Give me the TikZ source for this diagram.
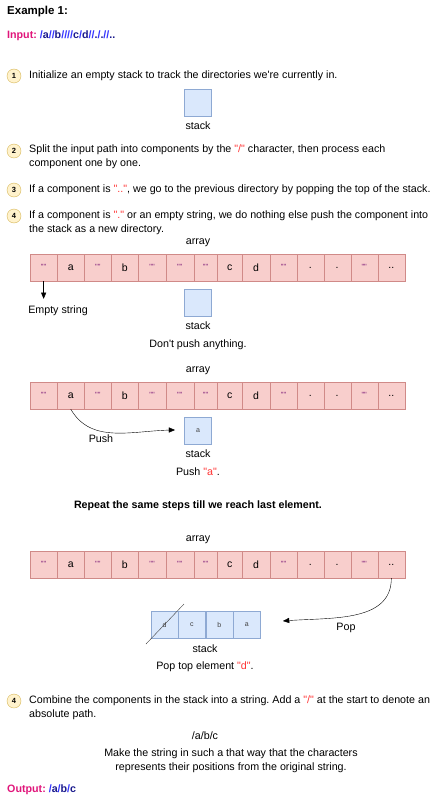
\documentclass[tikz,border=0pt]{standalone}
\usepackage{fontspec}
\setmainfont{Liberation Sans}[Ligatures=TeXOff]
\usepackage{tikz}
\usetikzlibrary{arrows,positioning}
\frenchspacing

\definecolor{cellfill}{HTML}{F8CECC}
\definecolor{celldraw}{HTML}{D08A88}
\definecolor{stkfill}{HTML}{DAE8FC}
\definecolor{stkdraw}{HTML}{8EA9D3}
\definecolor{markfill}{HTML}{FFF2CC}
\definecolor{markdraw}{HTML}{D6B656}
\definecolor{magen}{HTML}{E0157A}
\definecolor{pathblue}{HTML}{3333FF}
\definecolor{navy}{HTML}{1A1A8C}
\definecolor{redq}{HTML}{FF3333}
\definecolor{quotec}{HTML}{80207A}

\tikzset{
    cell/.style={draw=celldraw, fill=cellfill, minimum height=27pt, inner sep=0,
        font=\fontsize{10.5}{12}\selectfont},
    stk/.style={draw=stkdraw, fill=stkfill, minimum width=27pt, minimum height=27pt,
        inner sep=0, font=\fontsize{7}{8}\selectfont\color{darkgray}},
    stepmark/.style={circle, draw=markdraw, fill=markfill, minimum size=14pt,
        inner sep=0, font=\fontsize{7.5}{8}\selectfont\bfseries},
    txt/.style={inner sep=0, font=\fontsize{10.7}{14}\selectfont},
    btxt/.style={inner sep=0, font=\fontsize{10.7}{14}\selectfont\bfseries},
}

\newcommand{\qq}{\raisebox{2pt}{\fontsize{7.5}{8}\selectfont\color{quotec}""}}
\newcommand{\redq}[1]{\textcolor{redq}{"#1"}}
\newcommand{\pslash}{\textcolor{pathblue}{/}}
\newcommand{\nv}[1]{\textcolor{navy}{#1}}

% one row of the split path, #1 = name, #2 = y
\newcommand{\pathrow}[2]{%
    \foreach \n/\xl/\xr/\t in {1/30/57.3/\qq, 2/57.3/84.3/a, 3/84.3/111.3/\qq,
        4/111.3/138.3/b, 5/138.3/165.7/\qq, 6/165.7/193.7/\qq, 7/193.7/217.3/\qq,
        8/217.3/242/c, 9/242/270/d, 10/270/297/\qq, 11/297/323.7/{.},
        12/323.7/350.7/{.}, 13/350.7/377.7/\qq, 14/377.7/405/{..}}{%
        \pgfmathsetmacro{\w}{\xr-\xl}
        \node[cell, minimum width=\w pt] (#1-\n) at ({(\xl+\xr)/2},#2) {\t};
    }%
}

\begin{document}
\begin{tikzpicture}[x=1pt, y=-1pt]
            \useasboundingbox (0,0) rectangle (445,797);

            \node[inner sep=0, font=\fontsize{11.5}{13}\selectfont\bfseries, anchor=west] (title) at (7,12) {Example 1:};
            \node[btxt, anchor=west] (input) at (7,36)
            {\textcolor{magen}{Input:} \pslash\nv{a}\pslash\pslash\nv{b}\pslash\pslash\pslash\pslash\nv{c}\pslash\nv{d}\pslash\pslash\nv{.}\pslash\nv{.}\pslash\pslash\nv{..}};

            % step 1
            \node[stepmark] (m1) at (14,76) {1};
            \node[txt, anchor=west] (s1) at (29,76)
            {Initialize an empty stack to track the directories we're currently in.};
            \node[stk] (stk1) at (198,103) {};
            \node[txt] (stk1lbl) at (198,126) {stack};

            % step 2 and 3
            \node[stepmark] (m2) at (14,151) {2};
            \node[txt, anchor=north west, align=left] (s2) at (29,144.5)
            {Split the input path into components by the \redq{/} character, then process each\\component one by one.};
            \node[stepmark] (m3) at (14,190) {3};
            \node[txt, anchor=west] (s3) at (29,190)
            {If a component is \redq{..}, we go to the previous directory by popping the top of the stack.};

            % step 4
            \node[stepmark] (m4) at (14,216) {4};
            \node[txt, anchor=north west, align=left] (s4) at (29,210.5)
            {If a component is \redq{.} or an empty string, we do nothing else push the component into\\the stack as a new directory.};

            % first row
            \node[txt] (arr1lbl) at (198,243) {array};
            \pathrow{arr1}{267.5}
            \node[txt] (empty) at (58,311) {Empty string};
            \draw [arrows={-triangle 45}] (arr1-1.south) -- ([yshift=7pt]arr1-1.south |- empty.north);
            \node[stk] (stk2) at (198,302.5) {};
            \node[txt] (stk2lbl) at (198,326) {stack};
            \node[txt] (nopush) at (198,345) {Don't push anything.};

            % second row
            \node[txt] (arr2lbl) at (198,371) {array};
            \pathrow{arr2}{395.5}
            \node[stk] (stk3) at (198,430.5) {a};
            \coordinate (pushend) at (175,430);
            \draw [arrows={-triangle 45}] (arr2-2.south) to[out=-60, in=180] (pushend);
            \node[txt] (push) at (101,439) {Push};
            \node[txt] (stk3lbl) at (198,454) {stack};
            \node[txt] (pusha) at (198,472) {Push \redq{a}.};

            \node[btxt] (repeat) at (198,506) {Repeat the same steps till we reach last element.};

            % third row
            \node[txt] (arr3lbl) at (198,540) {array};
            \pathrow{arr3}{564.5}
            \node[stk] (st-d) at (164.5,625) {d};
            \node[stk, right=0pt of st-d] (st-c) {c};
            \node[stk, right=0pt of st-c] (st-b) {b};
            \node[stk, right=0pt of st-b] (st-a) {a};
            \draw[darkgray] (146,644) -- (184,604);
            \coordinate (popend) at (283,621);
            \draw [arrows={-triangle 45}] (arr3-14.south) to[out=-90, in=5] (popend);
            \node[txt] (pop) at (346,628) {Pop};
            \node[txt] (stk4lbl) at (205,649) {stack};
            \node[txt] (popd) at (205,667) {Pop top element \redq{d}.};

            % step 4 again
            \node[stepmark] (m5) at (14,701) {4};
            \node[txt, anchor=north west, align=left] (s5) at (29,695.5)
            {Combine the components in the stack into a string. Add a \redq{/} at the start to denote an\\absolute path.};
            \node[txt] (res) at (205,736) {/a/b/c};
            \node[txt, align=center] (note) at (231,761)
            {Make the string in such a that way that the characters\\represents their positions from the original string.};
            \node[btxt, anchor=west] (output) at (7,790)
            {\textcolor{magen}{Output:} \pslash\nv{a}\pslash\nv{b}\pslash\nv{c}};

\end{tikzpicture}
\end{document}
